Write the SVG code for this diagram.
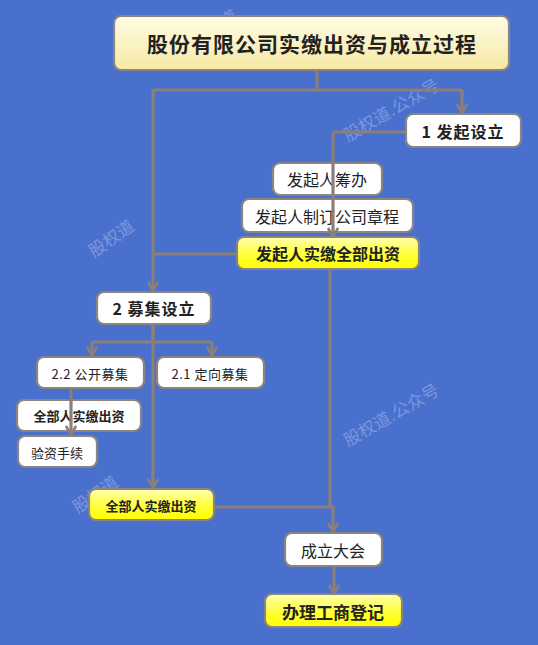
<svg xmlns="http://www.w3.org/2000/svg" width="538" height="645" viewBox="0 0 538 645">
<defs>
<linearGradient id="gTitle" x1="0" y1="0" x2="0" y2="1">
<stop offset="0" stop-color="#FFFCE6"/><stop offset="1" stop-color="#F6E9A2"/>
</linearGradient>
<linearGradient id="gYellow" x1="0" y1="0" x2="0" y2="1">
<stop offset="0" stop-color="#FFFFB0"/><stop offset="0.6" stop-color="#FFFF30"/><stop offset="1" stop-color="#FFFF00"/>
</linearGradient>
<marker id="arrD" markerWidth="12" markerHeight="12" refX="6" refY="11" markerUnits="userSpaceOnUse" viewBox="0 0 12 12">
<path d="M1,2 L6,11 L11,2" fill="none" stroke="#8C7F78" stroke-width="2.6"/>
</marker>
</defs>
<style>
.box{fill:#fff;stroke:#8C8480;stroke-width:2.2}
.yel{fill:url(#gYellow);stroke:#8C8480;stroke-width:2.2}
.ttl{fill:url(#gTitle);stroke:#8C8480;stroke-width:2.2}
.t{font-family:"Noto Sans CJK SC","Liberation Sans",sans-serif;fill:#222;text-anchor:middle;dominant-baseline:central}
.b{font-weight:bold}
.c{fill:none;stroke:#8C7F78;stroke-width:3.2}
.wm{font-family:"Noto Sans CJK SC",serif;fill:#A9B6EC;opacity:0.55;font-size:17px}
</style>
<rect width="538" height="645" fill="#4870CC"/>
<g id="watermarks">
<text class="wm" transform="translate(196,46) rotate(-32)">股权道</text>
<text class="wm" transform="translate(348,142) rotate(-30)">股权道.公众号</text>
<text class="wm" transform="translate(94,258) rotate(-35)">股权道</text>
<text class="wm" transform="translate(348,447) rotate(-30)">股权道.公众号</text>
<text class="wm" transform="translate(78,514) rotate(-35)">股权道</text>
</g>
<g id="connectors">
<path class="c" d="M317,70 V90 M153,90 H462"/>
<path class="c" d="M153,90 V291" marker-end="url(#arrD)"/>
<path class="c" d="M462,90 V113" marker-end="url(#arrD)"/>
<path class="c" d="M406,132 H333"/>
<path class="c" d="M153,254 H237"/>
<path class="c" d="M153,324 V342 M92,342 H212"/>
<path class="c" d="M92,342 V356" marker-end="url(#arrD)"/>
<path class="c" d="M212,342 V356" marker-end="url(#arrD)"/>
<path class="c" d="M153,324 V488" marker-end="url(#arrD)"/>
<path class="c" d="M330,269 V507"/>
<path class="c" d="M214,507 H333"/>
<path class="c" d="M333,505 V532" marker-end="url(#arrD)"/>
<path class="c" d="M334,566 V594" marker-end="url(#arrD)"/>
</g>
<g id="title"><rect class="ttl" x="114" y="16" width="395" height="54" rx="7"/><text class="t b" x="312" y="43" font-size="21" letter-spacing="1">股份有限公司实缴出资与成立过程</text></g>
<g id="n1"><rect class="box" x="406" y="114" width="115" height="33" rx="7"/><text class="t b" x="463" y="131" font-size="16" letter-spacing="1">1 发起设立</text></g>
<g id="n11"><rect class="box" x="273" y="163" width="109" height="32" rx="7"/><text class="t" x="327" y="179" font-size="16">发起人筹办</text></g>
<g id="n12"><rect class="box" x="242" y="199" width="171" height="33" rx="7"/><text class="t" x="327" y="216" font-size="16">发起人制订公司章程</text></g>
<g id="connector-over"><path class="c" d="M333,132 V237" marker-end="url(#arrD)"/></g>
<g id="n13"><rect class="yel" x="237" y="237" width="182" height="32" rx="7"/><text class="t b" x="328" y="253" font-size="16">发起人实缴全部出资</text></g>
<g id="n2"><rect class="box" x="97" y="292" width="114" height="32" rx="7"/><text class="t b" x="154" y="308" font-size="16" letter-spacing="1">2 募集设立</text></g>
<g id="n22"><rect class="box" x="37" y="357" width="107" height="31" rx="7"/><text class="t" x="90" y="373" font-size="13" letter-spacing="0.5">2.2 公开募集</text></g>
<g id="n21"><rect class="box" x="157" y="357" width="107" height="31" rx="7"/><text class="t" x="210" y="373" font-size="13" letter-spacing="0.5">2.1 定向募集</text></g>
<g id="n221"><rect class="box" x="17" y="400" width="124" height="31" rx="7"/><text class="t b" x="79" y="415" font-size="13">全部人实缴出资</text></g>
<g id="connector-over2"><path class="c" d="M71,388 V435" marker-end="url(#arrD)"/></g>
<g id="n222"><rect class="box" x="18" y="436" width="79" height="31" rx="7"/><text class="t" x="57" y="452" font-size="13">验资手续</text></g>
<g id="n23"><rect class="yel" x="89" y="489" width="125" height="31" rx="7"/><text class="t b" x="151" y="505" font-size="13">全部人实缴出资</text></g>
<g id="n3"><rect class="box" x="285" y="533" width="97" height="33" rx="7"/><text class="t" x="333" y="550" font-size="16">成立大会</text></g>
<g id="n4"><rect class="yel" x="265" y="594" width="137" height="33" rx="7"/><text class="t b" x="333" y="611" font-size="17">办理工商登记</text></g>
</svg>
